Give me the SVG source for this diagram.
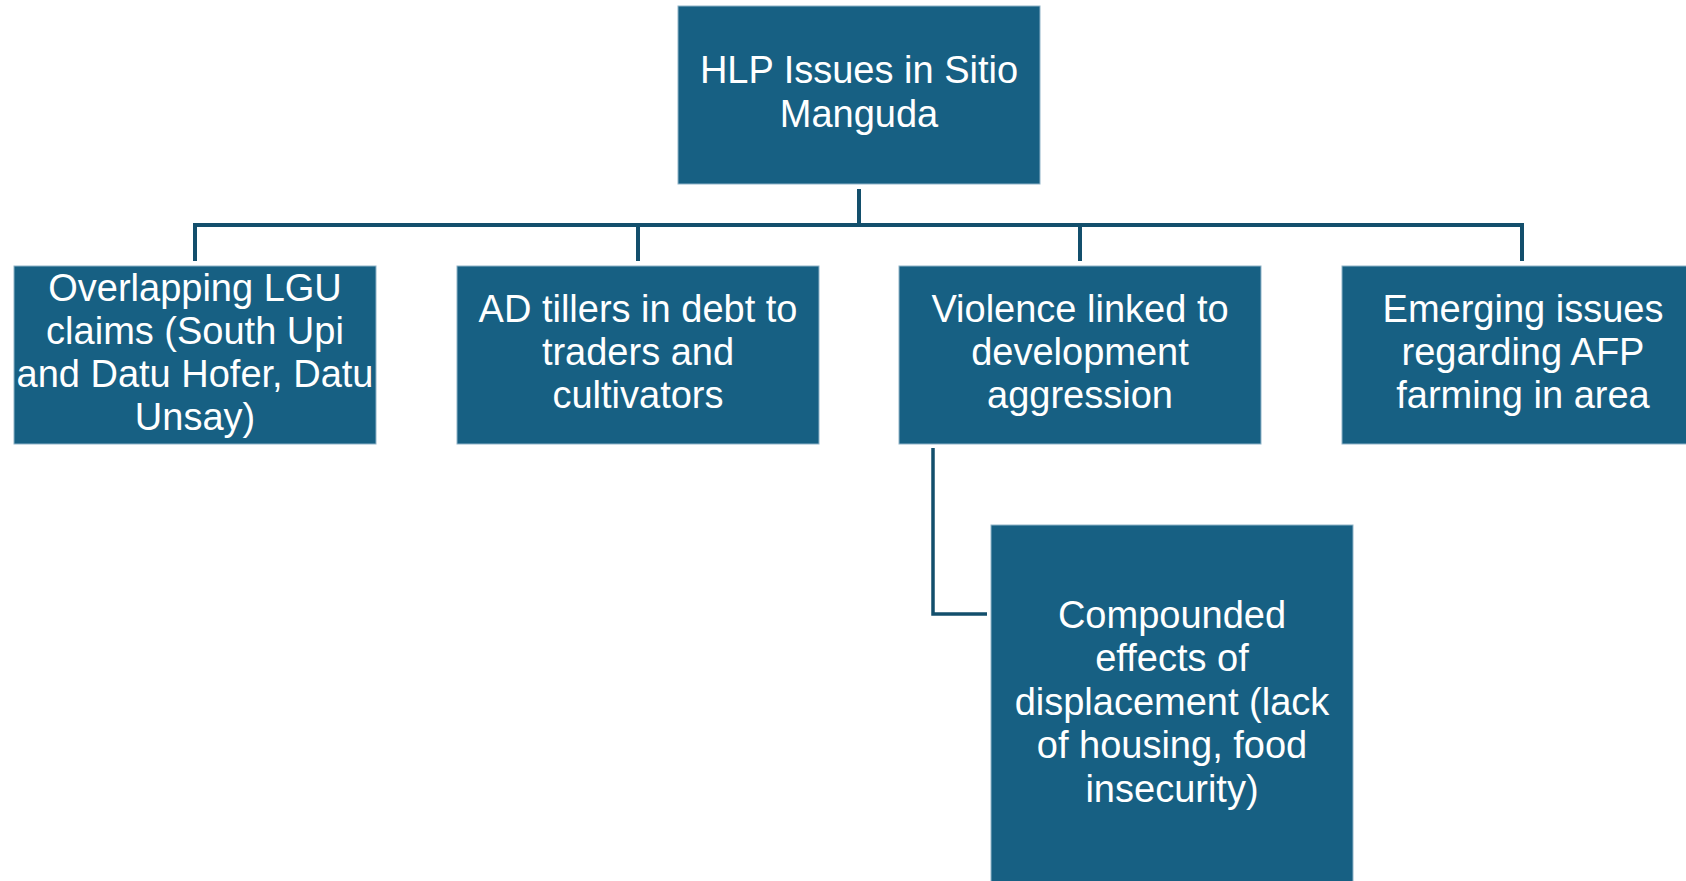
<svg xmlns="http://www.w3.org/2000/svg" width="1686" height="881" viewBox="0 0 1686 881">
<style>
.box{fill:#176083;stroke:#8fb3c8;stroke-width:1}
.t{font-family:"Liberation Sans",Arial,sans-serif;font-size:38px;fill:#ffffff;text-anchor:middle}
.c{fill:none;stroke:#134f6c;stroke-width:4}
</style>
<rect width="1686" height="881" fill="#ffffff"/>
<g id="connectors">
<line class="c" x1="859" y1="189" x2="859" y2="225"/>
<polyline class="c" points="195,261 195,225 1522,225 1522,261"/>
<line class="c" x1="638" y1="225" x2="638" y2="261"/>
<line class="c" x1="1080" y1="225" x2="1080" y2="261"/>
<polyline class="c" style="stroke-width:3.5" points="933,448 933,614 987,614"/>
</g>
<g id="root">
<rect class="box" x="678" y="6" width="362" height="178"/>
<text class="t"><tspan x="859" y="83">HLP Issues in Sitio</tspan><tspan x="859" y="127">Manguda</tspan></text>
</g>
<g id="lgu">
<rect class="box" x="14" y="266" width="362" height="178"/>
<text class="t"><tspan x="195" y="301">Overlapping LGU</tspan><tspan x="195" y="344">claims (South Upi</tspan><tspan x="195" y="387">and Datu Hofer, Datu</tspan><tspan x="195" y="430">Unsay)</tspan></text>
</g>
<g id="tillers">
<rect class="box" x="457" y="266" width="362" height="178"/>
<text class="t"><tspan x="638" y="322">AD tillers in debt to</tspan><tspan x="638" y="365">traders and</tspan><tspan x="638" y="408">cultivators</tspan></text>
</g>
<g id="violence">
<rect class="box" x="899" y="266" width="362" height="178"/>
<text class="t"><tspan x="1080" y="322">Violence linked to</tspan><tspan x="1080" y="365">development</tspan><tspan x="1080" y="408">aggression</tspan></text>
</g>
<g id="afp">
<rect class="box" x="1342" y="266" width="362" height="178"/>
<text class="t"><tspan x="1523" y="322">Emerging issues</tspan><tspan x="1523" y="365">regarding AFP</tspan><tspan x="1523" y="408">farming in area</tspan></text>
</g>
<g id="displacement">
<rect class="box" x="991" y="525" width="362" height="380"/>
<text class="t"><tspan x="1172" y="628">Compounded</tspan><tspan x="1172" y="671">effects of</tspan><tspan x="1172" y="715">displacement (lack</tspan><tspan x="1172" y="758">of housing, food</tspan><tspan x="1172" y="802">insecurity)</tspan></text>
</g>
</svg>
